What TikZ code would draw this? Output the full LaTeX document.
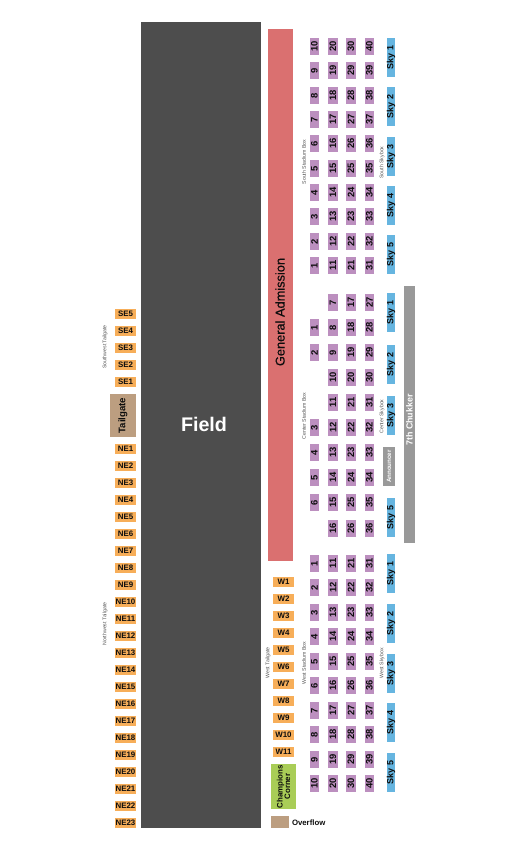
\documentclass[tikz,border=0pt]{standalone}
\usepackage{fontspec}
\setmainfont{Liberation Sans}
\newfontfamily\fakebold[FakeBold=0.6]{Liberation Sans}
\definecolor{fieldc}{HTML}{4D4D4D}
\definecolor{purplec}{HTML}{BC8FBF}
\definecolor{skyc}{HTML}{66B5E0}
\definecolor{orangec}{HTML}{F7AE59}
\definecolor{gac}{HTML}{DA7070}
\definecolor{tanc}{HTML}{BC9E80}
\definecolor{greenc}{HTML}{A9CD57}
\definecolor{grayc}{HTML}{999999}
\definecolor{textc}{HTML}{0D0D0D}
\definecolor{smallc}{HTML}{555555}
\newcommand{\fs}[1]{\fontsize{#1}{#1}\selectfont}
\tikzset{
 box/.style={inner sep=0pt,outer sep=0pt,text=textc,font=\bfseries\fs{9.4}},
 vert/.style={box,rotate=90},
 seatbox/.style={vert,fill=purplec,minimum height=#1,minimum width=17},
 skybox/.style={vert,fill=skyc,minimum height=8,minimum width=39,font=\bfseries\fs{9}},
 tail/.style={box,fill=orangec,minimum width=#1,minimum height=10,font=\bfseries\fs{7.9}},
 small/.style={inner sep=0pt,rotate=90,text=smallc,font=\fs{5.2}},
}
\begin{document}
\begin{tikzpicture}[x=1pt,y=-1pt]
\useasboundingbox (0,0) rectangle (525,850);
% main blocks
\node[box,fill=fieldc,minimum width=120,minimum height=806] (field) at (201,425) {};
\node[box,text=white,font=\bfseries\fs{19.7}] (fieldlabel) at (204,424) {Field};
\node[vert,fill=gac,minimum width=532,minimum height=25] (ga) at (280.5,295) {};
\node[vert,font=\fakebold\fs{12.8}] (galabel) at (280,312) {General Admission};
\node[vert,fill=grayc,minimum width=257,minimum height=11] (chukker) at (409.5,414.5) {};
\node[vert,text=white,font=\bfseries\fs{8.9}] (chukkerlabel) at (409.5,420) {7th Chukker};
\node[vert,fill=grayc,minimum width=39,minimum height=12,text=white,font=\bfseries\fs{6.2}] (announcer) at (389,466.5) {Announcer};
\node[vert,fill=tanc,minimum width=43,minimum height=26,font=\bfseries\fs{9.6}] (tailgate) at (123,415.5) {Tailgate};
\node[vert,fill=greenc,minimum width=45,minimum height=25,align=center,font=\bfseries\fs{7.9}] (champions) at (283.5,786.5) {Champions\\[-0.5pt]Corner};
\node[box,fill=tanc,minimum width=18,minimum height=12] (overflowbox) at (280,822) {};
\node[box,anchor=west,font=\bfseries\fs{7.8}] (overflow) at (292,823) {Overflow};
% left tailgates
\foreach \n/\y in {5/309,4/326,3/343,2/360,1/377}
  \node[tail=21] (se\n) at (125.5,\y+5) {SE\n};
\foreach \n [evaluate=\n as \y using int(449+17*(\n-1))] in {1,...,23}
  \node[tail=21] (ne\n) at (125.5,\y) {NE\n};
% west tailgates
\foreach \n [evaluate=\n as \y using int(582+17*(\n-1))] in {1,...,11}
  \node[tail=21] (w\n) at (283.5,\y) {W\n};
% south boxes
\foreach \t/\k in {38/10,62/9,87/8,111/7,135/6,160/5,184/4,208/3,233/2,257/1}{
  \node[seatbox=9] (sa\k) at (314.5,\t+8.5) {\k};
  \pgfmathtruncatemacro{\b}{\k+10}\pgfmathtruncatemacro{\c}{\k+20}\pgfmathtruncatemacro{\d}{\k+30}
  \node[seatbox=10] (sb\k) at (333,\t+8.5) {\b};
  \node[seatbox=10] (sc\k) at (351,\t+8.5) {\c};
  \node[seatbox=9] (sd\k) at (369.5,\t+8.5) {\d};
}
\foreach \t/\k in {38/1,87/2,137/3,186/4,235/5}
  \node[skybox] (ssky\k) at (391,\t+19.5) {Sky \k};
% center boxes
\foreach \t/\k in {319/1,344/2,419/3,444/4,469/5,494/6}
  \node[seatbox=9] (ca\k) at (314.5,\t+8.5) {\k};
\foreach \t/\k in {294/7,319/8,344/9,369/10,394/11,419/12,444/13,469/14,494/15,520/16}{
  \pgfmathtruncatemacro{\c}{\k+10}\pgfmathtruncatemacro{\d}{\k+20}
  \node[seatbox=10] (cb\k) at (333,\t+8.5) {\k};
  \node[seatbox=10] (cc\k) at (351,\t+8.5) {\c};
  \node[seatbox=9] (cd\k) at (369.5,\t+8.5) {\d};
}
\foreach \t/\k/\l in {293/1/Sky 1,345/2/Sky 2,396/3/Sky 3,498/5/Sky 5}
  \node[skybox] (csky\k) at (391,\t+19.5) {\l};
% west boxes
\foreach \t/\k in {555/1,579/2,604/3,628/4,653/5,677/6,702/7,726/8,751/9,775/10}{
  \pgfmathtruncatemacro{\b}{\k+10}\pgfmathtruncatemacro{\c}{\k+20}\pgfmathtruncatemacro{\d}{\k+30}
  \node[seatbox=9] (wa\k) at (314.5,\t+8.5) {\k};
  \node[seatbox=10] (wb\k) at (333,\t+8.5) {\b};
  \node[seatbox=10] (wc\k) at (351,\t+8.5) {\c};
  \node[seatbox=9] (wd\k) at (369.5,\t+8.5) {\d};
}
\foreach \t/\k in {554/1,604/2,654/3,703/4,753/5}
  \node[skybox] (wsky\k) at (391,\t+19.5) {Sky \k};
% small labels
\node[small] (l1) at (105,347) {Southwest Tailgate};
\node[small] (l2) at (105,624) {Northwest Tailgate};
\node[small] (l3) at (268,663) {West Tailgate};
\node[small] (l4) at (304,663) {West Stadium Box};
\node[small] (l5) at (304,162) {South Stadium Box};
\node[small] (l6) at (304,416) {Center Stadium Box};
\node[small] (l7) at (382,162.5) {South Skybox};
\node[small] (l8) at (382,416.5) {Center Skybox};
\node[small] (l9) at (382,663.5) {West Skybox};
\end{tikzpicture}
\end{document}
